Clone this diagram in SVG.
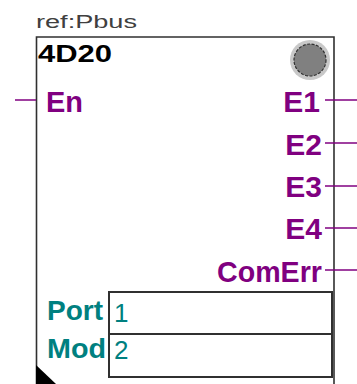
<svg xmlns="http://www.w3.org/2000/svg" width="357" height="384" viewBox="0 0 357 384">
<style>
.pin{stroke:#800080;stroke-width:1.5;fill:none}
.out{font-family:"Liberation Sans",Arial,sans-serif;font-size:30px;fill:#800080;font-weight:bold;text-anchor:end}
.in{font-family:"Liberation Sans",Arial,sans-serif;font-size:30px;fill:#800080;font-weight:bold}
.par{font-family:"Liberation Sans",Arial,sans-serif;font-size:28px;fill:#008080;font-weight:bold}
.val{font-family:"Liberation Sans",Arial,sans-serif;font-size:26px;fill:#008080}
</style>
<rect width="357" height="384" fill="#ffffff"/>
<g id="block">
<text x="36" y="28" font-family="'Liberation Sans',Arial,sans-serif" font-size="18" fill="#404040" textLength="101" lengthAdjust="spacingAndGlyphs">ref:Pbus</text>
<path d="M36.5 384 V37 H334 V384" fill="#ffffff" stroke="#303030" stroke-width="1.6"/>
<text x="38" y="62" font-family="'Liberation Sans',Arial,sans-serif" font-size="24" font-weight="bold" fill="#000000" textLength="74" lengthAdjust="spacingAndGlyphs">4D20</text>
<circle cx="310" cy="60" r="20" fill="#c8c8c8"/>
<circle cx="310" cy="60" r="16" fill="#808080" stroke="#303030" stroke-width="1.2" stroke-dasharray="3 1.5"/>
<polygon points="36,365 36,384 56,384" fill="#000000"/>
</g>
<g id="connectors">
<line class="pin" x1="15" y1="100" x2="36" y2="100"/>
<line class="pin" x1="325" y1="100" x2="357" y2="100"/>
<line class="pin" x1="325" y1="143" x2="357" y2="143"/>
<line class="pin" x1="325" y1="186" x2="357" y2="186"/>
<line class="pin" x1="325" y1="228" x2="357" y2="228"/>
<line class="pin" x1="325" y1="270" x2="357" y2="270"/>
</g>
<g id="pin-En"><text class="in" x="46" y="112" textLength="37" lengthAdjust="spacingAndGlyphs">En</text></g>
<g id="pin-E1"><text class="out" x="320" y="112">E1</text></g>
<g id="pin-E2"><text class="out" x="322" y="155">E2</text></g>
<g id="pin-E3"><text class="out" x="322" y="197">E3</text></g>
<g id="pin-E4"><text class="out" x="322" y="239">E4</text></g>
<g id="pin-ComErr"><text class="out" x="322" y="282" textLength="105" lengthAdjust="spacingAndGlyphs">ComErr</text></g>
<g id="params">
<rect x="109" y="292" width="223" height="85" fill="#ffffff" stroke="#303030" stroke-width="2"/>
<line x1="109" y1="334" x2="332" y2="334" stroke="#303030" stroke-width="2"/>
<text class="par" x="47" y="320" textLength="56" lengthAdjust="spacingAndGlyphs">Port</text>
<text class="par" x="47" y="358" textLength="59" lengthAdjust="spacingAndGlyphs">Mod</text>
<text class="val" x="114" y="322">1</text>
<text class="val" x="114" y="359">2</text>
</g>
</svg>
